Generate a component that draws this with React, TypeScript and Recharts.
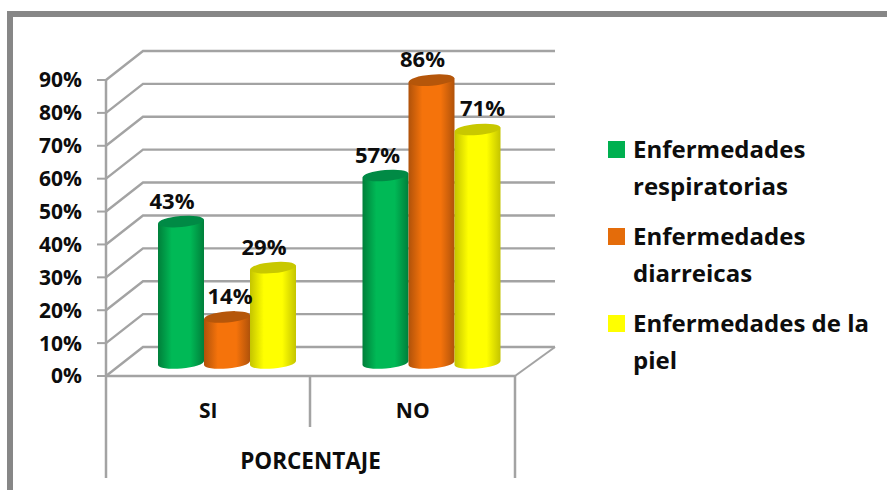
import React from 'react';
import {
  BarChart, Bar, XAxis, YAxis, Legend, LabelList, ReferenceLine, Customized
} from 'recharts';

const categories = ['SI', 'NO'];
const respiratorias = [43, 57];
const diarreicas = [14, 86];
const piel = [29, 71];
const yTicks = [0, 10, 20, 30, 40, 50, 60, 70, 80, 90];

const data = categories.map((name, i) => ({
  name,
  respiratorias: respiratorias[i],
  diarreicas: diarreicas[i],
  piel: piel[i],
}));

const FONT = '"Open Sans", "Noto Sans", sans-serif';
const GRID = '#a3a3a3';
const TEXT = '#0d0d0d';

// depth of the fake 3D box
const WALL_DX = 37;
const WALL_DY = 29;
// bars stand in the middle of the floor
const BAR_DX = 19;
const BAR_DY = -13;

const PLOT = { left: 106, right: 515, top: 80, bottom: 376 };

const Cylinder = (props: any) => {
  const { x, y, width, height, gradient, capColor } = props;
  const left = x + BAR_DX;
  const right = left + width;
  const top = y + BAR_DY;
  const bottom = top + height;
  const rx = width / 2;
  const ry = 5.5;
  const tilt = 2;
  const arc = `A ${rx} ${ry} -5`;
  return (
    <g>
      <path
        d={`M ${left} ${top + tilt} L ${left} ${bottom + tilt} ${arc} 0 0 ${right} ${bottom - tilt} L ${right} ${top - tilt} Z`}
        fill={`url(#${gradient})`}
      />
      <ellipse
        cx={left + rx}
        cy={top}
        rx={rx}
        ry={ry}
        fill={capColor}
        transform={`rotate(-5 ${left + rx} ${top})`}
      />
    </g>
  );
};

const WallLine = (props: any) => {
  const { x1, y1 } = props;
  return (
    <polyline
      points={`${x1},${y1} ${x1 + WALL_DX},${y1 - WALL_DY} ${PLOT.right + 40},${y1 - WALL_DY}`}
      fill="none"
      stroke={GRID}
      strokeWidth={2.4}
    />
  );
};

const makeLabel = (nudge: number[]) => (props: any) => {
  const { x, y, width, value, index } = props;
  return (
    <text
      x={x + BAR_DX + width / 2 + nudge[index]}
      y={y + BAR_DY - 22}
      textAnchor="middle"
      dominantBaseline="central"
      fontFamily={FONT}
      fontWeight={700}
      fontSize={22}
      fill={TEXT}
    >
      {value}%
    </text>
  );
};

const AxisFrame = () => (
  <g stroke={GRID} strokeWidth={2.5} fill="none">
    <line x1={PLOT.left} y1={PLOT.bottom} x2={PLOT.left} y2={478} />
    <line x1={PLOT.right} y1={PLOT.bottom} x2={PLOT.right} y2={478} />
    <line x1={310} y1={PLOT.bottom} x2={310} y2={427} />
    <line x1={PLOT.right} y1={PLOT.bottom} x2={PLOT.right + 40} y2={PLOT.bottom - WALL_DY} strokeWidth={2} />
  </g>
);

const LegendBox = ({ payload }: any) => (
  <div style={{ fontFamily: FONT, fontWeight: 700, fontSize: 24, lineHeight: '37px', color: TEXT }}>
    {(payload || []).map((item: any) => (
      <div key={item.value} style={{ position: 'relative', paddingLeft: 25, marginBottom: 13 }}>
        <span
          style={{
            position: 'absolute', left: 0, top: 11, width: 17, height: 17, backgroundColor: item.color,
          }}
        />
        {item.value}
      </div>
    ))}
  </div>
);

const gradients = [
  { id: 'cylGreen', edge: '#007f3a', mid: '#00b956' },
  { id: 'cylOrange', edge: '#b0520a', mid: '#f5730b' },
  { id: 'cylYellow', edge: '#c4c400', mid: '#ffff00' },
];

export default function App() {
  return (
    <div style={{ position: 'absolute', left: 0, top: 0, width: 887, height: 490, overflow: 'hidden', background: '#fff' }}>
      <div
        style={{
          position: 'absolute', left: 7, top: 11, width: 900, height: 500,
          border: '6px solid #878787', boxSizing: 'border-box',
        }}
      />
      <div style={{ position: 'absolute', left: 0, top: 0 }}>
        <BarChart
          width={887}
          height={490}
          data={data}
          barSize={46}
          barGap={0}
          margin={{ top: 80, right: 372, bottom: 0, left: 46 }}
        >
          <defs>
            {gradients.map((g) => (
              <linearGradient key={g.id} id={g.id} x1="0" y1="0" x2="1" y2="0">
                <stop offset="0%" stopColor={g.edge} />
                <stop offset="30%" stopColor={g.mid} />
                <stop offset="70%" stopColor={g.mid} />
                <stop offset="100%" stopColor={g.edge} />
              </linearGradient>
            ))}
          </defs>
          {yTicks.map((t) => (
            <ReferenceLine key={t} y={t} shape={WallLine} zIndex={100} />
          ))}
          <Customized component={AxisFrame} />
          <XAxis
            dataKey="name"
            height={114}
            interval={0}
            tickLine={false}
            axisLine={{ stroke: GRID, strokeWidth: 2.5 }}
            tickMargin={21}
            tick={{ fontFamily: FONT, fontWeight: 700, fontSize: 21, fill: TEXT }}
            label={{
              value: 'PORCENTAJE',
              position: 'insideBottom',
              offset: 21,
              fontFamily: FONT,
              fontWeight: 700,
              fontSize: 22.5,
              fill: TEXT,
            }}
          />
          <YAxis
            width={60}
            domain={[0, 90]}
            ticks={yTicks}
            interval={0}
            tickFormatter={(v) => `${v}%`}
            tickSize={9}
            tickMargin={15}
            axisLine={{ stroke: GRID, strokeWidth: 2.5 }}
            tickLine={{ stroke: GRID, strokeWidth: 2 }}
            tick={{ fontFamily: FONT, fontWeight: 700, fontSize: 21, fill: TEXT }}
          />
          <Legend
            layout="vertical"
            align="center"
            verticalAlign="middle"
            itemSorter={null}
            content={<LegendBox />}
            wrapperStyle={{ left: 608, top: 130, width: 270 }}
          />
          <Bar
            dataKey="respiratorias"
            name="Enfermedades respiratorias"
            fill="#00B050"
            isAnimationActive={false}
            shape={<Cylinder gradient="cylGreen" capColor="#008a45" />}
          >
            <LabelList dataKey="respiratorias" content={makeLabel([-9, -8])} />
          </Bar>
          <Bar
            dataKey="diarreicas"
            name="Enfermedades diarreicas"
            fill="#E46C0A"
            isAnimationActive={false}
            shape={<Cylinder gradient="cylOrange" capColor="#b5560a" />}
          >
            <LabelList dataKey="diarreicas" content={makeLabel([3, -9])} />
          </Bar>
          <Bar
            dataKey="piel"
            name="Enfermedades de la piel"
            fill="#FFFF00"
            isAnimationActive={false}
            shape={<Cylinder gradient="cylYellow" capColor="#c8c800" />}
          >
            <LabelList dataKey="piel" content={makeLabel([-9, 5])} />
          </Bar>
        </BarChart>
      </div>
    </div>
  );
}
